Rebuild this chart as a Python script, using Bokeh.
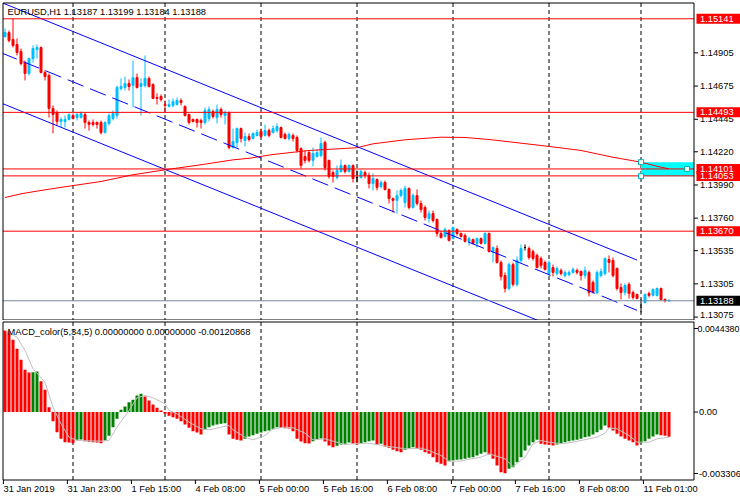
from bokeh.plotting import figure
from bokeh.layouts import column
from bokeh.models import Range1d, ColumnDataSource
from bokeh.core.properties import value
from bokeh.embed import file_html
from bokeh.resources import INLINE

FONT = "Liberation Sans"
FS = "9.3px"

header_text = "EURUSD,H1  1.13187 1.13199 1.13184 1.13188"
macd_text = "MACD_color(5,34,5) 0.00000000 0.00000000 -0.00120868"

opens = [1.15018, 1.15046, 1.14998, 1.14963, 1.14915, 1.14838, 1.14762, 1.14866, 1.14928, 1.14942,
         1.14769, 1.14748, 1.14520, 1.14492, 1.14430, 1.14430, 1.14444, 1.14471, 1.14457, 1.14457,
         1.14478, 1.14423, 1.14423, 1.14423, 1.14423, 1.14353, 1.14416, 1.14450, 1.14471, 1.14658,
         1.14665, 1.14693, 1.14679, 1.14734, 1.14672, 1.14679, 1.14728, 1.14686, 1.14596, 1.14603,
         1.14547, 1.14534, 1.14541, 1.14547, 1.14575, 1.14534, 1.14478, 1.14444, 1.14444, 1.14437,
         1.14423, 1.14450, 1.14499, 1.14457, 1.14513, 1.14471, 1.14492, 1.14250, 1.14284, 1.14381,
         1.14298, 1.14326, 1.14312, 1.14333, 1.14360, 1.14333, 1.14367, 1.14353, 1.14367, 1.14388,
         1.14340, 1.14312, 1.14333, 1.14319, 1.14243, 1.14187, 1.14215, 1.14160, 1.14187, 1.14194,
         1.14284, 1.14160, 1.14076, 1.14042, 1.14083, 1.14125, 1.14083, 1.14125, 1.14042, 1.14042,
         1.14076, 1.14056, 1.14000, 1.14028, 1.13979, 1.14007, 1.13959, 1.13896, 1.13883, 1.13917,
         1.13869, 1.13966, 1.13834, 1.13917, 1.13862, 1.13834, 1.13758, 1.13792, 1.13751, 1.13654,
         1.13633, 1.13675, 1.13619, 1.13682, 1.13654, 1.13640, 1.13599, 1.13612, 1.13585, 1.13619,
         1.13585, 1.13654, 1.13529, 1.13550, 1.13453, 1.13363, 1.13273, 1.13439, 1.13301, 1.13467,
         1.13557, 1.13550, 1.13529, 1.13502, 1.13481, 1.13453, 1.13377, 1.13418, 1.13377, 1.13398,
         1.13363, 1.13370, 1.13384, 1.13398, 1.13391, 1.13363, 1.13384, 1.13315, 1.13245, 1.13363,
         1.13377, 1.13474, 1.13467, 1.13412, 1.13280, 1.13245, 1.13301, 1.13245, 1.13232, 1.13190,
         1.13176, 1.13238, 1.13225, 1.13225, 1.13273, 1.13197, 1.13187]
highs = [1.15074, 1.15060, 1.15141, 1.15005, 1.14935, 1.14852, 1.14873, 1.14956, 1.14963, 1.14949,
         1.14783, 1.14762, 1.14541, 1.14506, 1.14457, 1.14471, 1.14485, 1.14485, 1.14492, 1.14499,
         1.14492, 1.14437, 1.14444, 1.14430, 1.14437, 1.14430, 1.14485, 1.14506, 1.14679, 1.14728,
         1.14741, 1.14721, 1.14852, 1.14762, 1.14728, 1.14887, 1.14741, 1.14693, 1.14624, 1.14617,
         1.14575, 1.14582, 1.14589, 1.14596, 1.14589, 1.14541, 1.14485, 1.14450, 1.14450, 1.14450,
         1.14527, 1.14534, 1.14513, 1.14547, 1.14527, 1.14506, 1.14499, 1.14381, 1.14388, 1.14388,
         1.14353, 1.14347, 1.14353, 1.14374, 1.14381, 1.14409, 1.14381, 1.14402, 1.14416, 1.14395,
         1.14353, 1.14353, 1.14347, 1.14333, 1.14250, 1.14229, 1.14229, 1.14250, 1.14236, 1.14319,
         1.14298, 1.14166, 1.14090, 1.14125, 1.14166, 1.14132, 1.14132, 1.14132, 1.14090, 1.14097,
         1.14090, 1.14076, 1.14070, 1.14035, 1.14021, 1.14021, 1.13966, 1.13903, 1.13952, 1.13966,
         1.13986, 1.13973, 1.13931, 1.13959, 1.13883, 1.13848, 1.13813, 1.13813, 1.13758, 1.13675,
         1.13696, 1.13682, 1.13702, 1.13689, 1.13661, 1.13654, 1.13633, 1.13619, 1.13626, 1.13626,
         1.13661, 1.13661, 1.13564, 1.13571, 1.13467, 1.13384, 1.13453, 1.13453, 1.13495, 1.13578,
         1.13578, 1.13564, 1.13543, 1.13515, 1.13495, 1.13467, 1.13467, 1.13439, 1.13425, 1.13412,
         1.13398, 1.13398, 1.13418, 1.13412, 1.13398, 1.13425, 1.13398, 1.13328, 1.13398, 1.13412,
         1.13488, 1.13502, 1.13488, 1.13418, 1.13308, 1.13308, 1.13315, 1.13259, 1.13238, 1.13197,
         1.13238, 1.13252, 1.13273, 1.13280, 1.13280, 1.13204, 1.13199]
lows = [1.15011, 1.14977, 1.14942, 1.14887, 1.14818, 1.14714, 1.14748, 1.14838, 1.14866, 1.14762,
        1.14714, 1.14457, 1.14347, 1.14402, 1.14388, 1.14388, 1.14437, 1.14444, 1.14437, 1.14450,
        1.14381, 1.14367, 1.14395, 1.14381, 1.14340, 1.14347, 1.14402, 1.14437, 1.14450, 1.14644,
        1.14644, 1.14644, 1.14527, 1.14658, 1.14471, 1.14665, 1.14665, 1.14589, 1.14547, 1.14568,
        1.14492, 1.14527, 1.14527, 1.14541, 1.14541, 1.14464, 1.14409, 1.14423, 1.14388, 1.14381,
        1.14409, 1.14430, 1.14450, 1.14416, 1.14457, 1.14409, 1.14236, 1.14243, 1.14250, 1.14284,
        1.14257, 1.14291, 1.14305, 1.14326, 1.14319, 1.14326, 1.14319, 1.14347, 1.14353, 1.14312,
        1.14305, 1.14298, 1.14291, 1.14215, 1.14104, 1.14139, 1.14146, 1.14118, 1.14180, 1.14180,
        1.14090, 1.14035, 1.14007, 1.14028, 1.14076, 1.14070, 1.14076, 1.14007, 1.14007, 1.14035,
        1.14035, 1.13966, 1.13952, 1.13952, 1.13966, 1.13952, 1.13862, 1.13799, 1.13792, 1.13903,
        1.13834, 1.13820, 1.13827, 1.13848, 1.13799, 1.13744, 1.13730, 1.13730, 1.13633, 1.13619,
        1.13626, 1.13599, 1.13612, 1.13640, 1.13626, 1.13592, 1.13571, 1.13578, 1.13557, 1.13578,
        1.13578, 1.13522, 1.13453, 1.13446, 1.13328, 1.13245, 1.13259, 1.13287, 1.13287, 1.13453,
        1.13536, 1.13474, 1.13467, 1.13412, 1.13412, 1.13398, 1.13363, 1.13356, 1.13363, 1.13363,
        1.13349, 1.13356, 1.13377, 1.13370, 1.13328, 1.13342, 1.13218, 1.13238, 1.13232, 1.13349,
        1.13363, 1.13384, 1.13349, 1.13259, 1.13197, 1.13225, 1.13204, 1.13197, 1.13197, 1.13107,
        1.13169, 1.13211, 1.13218, 1.13218, 1.13190, 1.13176, 1.13184]
closes = [1.15046, 1.14991, 1.14956, 1.14908, 1.14831, 1.14762, 1.14866, 1.14935, 1.14942, 1.14769,
          1.14741, 1.14520, 1.14478, 1.14430, 1.14444, 1.14444, 1.14478, 1.14450, 1.14478, 1.14485,
          1.14423, 1.14409, 1.14409, 1.14409, 1.14353, 1.14423, 1.14471, 1.14485, 1.14665, 1.14672,
          1.14693, 1.14672, 1.14734, 1.14665, 1.14693, 1.14728, 1.14672, 1.14589, 1.14589, 1.14582,
          1.14541, 1.14547, 1.14568, 1.14575, 1.14561, 1.14471, 1.14423, 1.14430, 1.14423, 1.14423,
          1.14506, 1.14513, 1.14464, 1.14513, 1.14478, 1.14492, 1.14250, 1.14291, 1.14381, 1.14312,
          1.14326, 1.14305, 1.14347, 1.14353, 1.14326, 1.14367, 1.14333, 1.14381, 1.14395, 1.14319,
          1.14312, 1.14340, 1.14312, 1.14229, 1.14125, 1.14160, 1.14160, 1.14208, 1.14215, 1.14277,
          1.14111, 1.14049, 1.14049, 1.14090, 1.14125, 1.14083, 1.14125, 1.14035, 1.14042, 1.14083,
          1.14056, 1.14000, 1.14035, 1.13973, 1.14007, 1.13959, 1.13896, 1.13883, 1.13917, 1.13952,
          1.13966, 1.13834, 1.13917, 1.13862, 1.13820, 1.13765, 1.13792, 1.13744, 1.13654, 1.13626,
          1.13682, 1.13606, 1.13696, 1.13654, 1.13633, 1.13599, 1.13619, 1.13585, 1.13619, 1.13585,
          1.13654, 1.13529, 1.13557, 1.13453, 1.13356, 1.13273, 1.13439, 1.13301, 1.13467, 1.13550,
          1.13557, 1.13488, 1.13481, 1.13418, 1.13432, 1.13405, 1.13453, 1.13384, 1.13412, 1.13377,
          1.13384, 1.13384, 1.13405, 1.13384, 1.13363, 1.13398, 1.13245, 1.13252, 1.13384, 1.13391,
          1.13481, 1.13453, 1.13363, 1.13273, 1.13245, 1.13294, 1.13238, 1.13211, 1.13204, 1.13190,
          1.13232, 1.13225, 1.13266, 1.13273, 1.13197, 1.13190, 1.13188]

time_labels = ["31 Jan 2019", "31 Jan 23:00", "1 Feb 15:00", "4 Feb 08:00", "5 Feb 00:00",
               "5 Feb 16:00", "6 Feb 08:00", "7 Feb 00:00", "7 Feb 16:00", "8 Feb 08:00", "11 Feb 01:00"]
time_label_bars = [0, 16, 32, 48, 64, 80, 96, 112, 128, 144, 160]
day_separator_bars = [17, 40, 64, 88, 112, 136, 159]

price_ticks = [1.14905, 1.14675, 1.14445, 1.14220, 1.13990, 1.13760, 1.13535, 1.13305, 1.13075]
level_prices = [1.15141, 1.14493, 1.14101, 1.14053, 1.13670]
bid_price = 1.13188

ma_bars = [0, 4, 9, 17, 24, 32, 40, 49, 57, 61, 67, 76, 88, 92, 100, 109, 115, 121, 127, 136,
           144, 152, 159, 164, 166]
ma_values = [1.13903, 1.13929, 1.13952, 1.13986, 1.14014, 1.14061, 1.14095, 1.14130, 1.14164,
             1.14175, 1.14201, 1.14229, 1.14248, 1.14275, 1.14303, 1.14321, 1.14319, 1.14305,
             1.14286, 1.14257, 1.14229, 1.14182, 1.14148, 1.14113, 1.14102]

channel_bars = [-1, 158]
channel_upper = [1.15255, 1.13470]
channel_middle = [1.14906, 1.13122]
channel_lower = [1.14558, 1.12774]

zone_start_bar = 159
zone_top = 1.14148
zone_bottom = 1.14051
handle_bars = [159, 159, 170.5]
handle_prices = [1.14148, 1.14051, 1.14101]

macd_hist = [0.003998, 0.003965, 0.003539, 0.003099, 0.002559, 0.002069, 0.001939, 0.001955, 0.001988, 0.001514,
             0.001089, 0.000240, -0.000447, -0.000986, -0.001313, -0.001476, -0.001493, -0.001525, -0.001362, -0.001346,
             -0.001427, -0.001460, -0.001476, -0.001493, -0.001525, -0.001395, -0.001166, -0.000741, -0.000333, 0.000109,
             0.000272, 0.000485, 0.000599, 0.000812, 0.000894, 0.000763, 0.000566, 0.000370, 0.000207, 0.000076,
             -0.000087, -0.000185, -0.000251, -0.000333, -0.000447, -0.000610, -0.000774, -0.000937, -0.001002, -0.001100,
             -0.000872, -0.000741, -0.000660, -0.000610, -0.000578, -0.000545, -0.001100, -0.001313, -0.001362, -0.001395,
             -0.001313, -0.001198, -0.001133, -0.001068, -0.001002, -0.000937, -0.000904, -0.000839, -0.000741, -0.000774,
             -0.000790, -0.000806, -0.000937, -0.001313, -0.001444, -0.001525, -0.001542, -0.001427, -0.001329, -0.001297,
             -0.001444, -0.001640, -0.001721, -0.001656, -0.001591, -0.001558, -0.001493, -0.001558, -0.001591, -0.001525,
             -0.001476, -0.001427, -0.001395, -0.001607, -0.001558, -0.001689, -0.001754, -0.001852, -0.001917, -0.001966,
             -0.001852, -0.001787, -0.001721, -0.001803, -0.001852, -0.001966, -0.002048, -0.002212, -0.002456, -0.002538,
             -0.002620, -0.002407, -0.002375, -0.002342, -0.002326, -0.002293, -0.002244, -0.002212, -0.002130, -0.002048,
             -0.001966, -0.002081, -0.002293, -0.002620, -0.002946, -0.002995, -0.002783, -0.002701, -0.002456, -0.002212,
             -0.001885, -0.001640, -0.001476, -0.001362, -0.001558, -0.001591, -0.001607, -0.001640, -0.001591, -0.001525,
             -0.001476, -0.001427, -0.001395, -0.001362, -0.001313, -0.001231, -0.001198, -0.001100, -0.000986, -0.000872,
             -0.000660, -0.000774, -0.000904, -0.001068, -0.001198, -0.001313, -0.001395, -0.001476, -0.001640, -0.001525,
             -0.001427, -0.001313, -0.001198, -0.001100, -0.001133, -0.001166, -0.001209]
signal_bars = [0, 3, 5, 7, 10, 12, 14, 16, 18, 24, 26, 28, 31, 33, 35, 37, 40, 41, 43, 46,
               49, 51, 54, 56, 57, 60, 62, 65, 67, 70, 72, 75, 77, 80, 82, 85, 87, 91, 92, 96,
               100, 104, 106, 109, 111, 114, 116, 119, 121, 125, 127, 130, 132, 134, 136, 139, 142, 146, 148, 150,
               151, 153, 156, 158, 161, 163, 166]
signal_values = [0.003998, 0.003671, 0.003017, 0.002118, 0.001465, 0.000240, -0.000578, -0.001231, -0.001395, -0.001427,
                 -0.001395, -0.000741, 0.000076, 0.000697, 0.000812, 0.000697, 0.000403, 0.000076, -0.000087, -0.000496,
                 -0.000823, -0.000872, -0.000741, -0.000660, -0.000872, -0.001231, -0.001362, -0.001149, -0.000823, -0.000741,
                 -0.000774, -0.001035, -0.001362, -0.001313, -0.001427, -0.001591, -0.001558, -0.001525, -0.001558, -0.001689,
                 -0.001803, -0.001770, -0.001885, -0.002130, -0.002407, -0.002407, -0.002309, -0.002212, -0.002048, -0.002293,
                 -0.002669, -0.002212, -0.001558, -0.001395, -0.001476, -0.001558, -0.001476, -0.001313, -0.001231, -0.001035,
                 -0.000774, -0.000823, -0.001149, -0.001476, -0.001476, -0.001313, -0.001231]
macd_scale_max = 0.004438
macd_scale_min = -0.003306
macd_scale_labels = ["0.0044380", "0.00", "-0.003306"]

# ---------------- layout / style constants (pixel geometry of the MT4 window) ----------------
BULL = "#00BFFF"
BEAR = "#FF0000"
DOJI = "#000000"
GREEN = "#008000"
W = 740
MAIN_H = 320
MACD_H = 180
LEFT, RIGHT = 2.5, 693.5            # chart border columns
MAIN_TOP, MAIN_BOT = 2.5, 319.5     # main chart border rows
MACD_TOP, MACD_BOT = 321.0, 479.0   # MACD chart border rows (canvas)
PRICE_TOP = 1.152677                # price at canvas row 0
PRICE_PER_PX = 0.00006926
MACD_PX = (macd_scale_max - macd_scale_min) / (MACD_BOT - MACD_TOP)


def X(px):          # canvas column -> bar units (bar i sits on column 4.5 + 4 i)
    return (px - 4.5) / 4.0


def PY(py):         # canvas row -> price (main panel)
    return PRICE_TOP - PRICE_PER_PX * py


def MY(cy):         # canvas row -> MACD value (MACD panel, canvas row = 320 + local row)
    return macd_scale_max - (cy - MACD_TOP) * MACD_PX


def base_fig(h, y0, y1):
    f = figure(width=W, height=h, x_range=Range1d(X(0), X(W)), y_range=Range1d(y0, y1),
               output_backend="svg", toolbar_location=None,
               x_axis_location=None, y_axis_location=None,
               min_border=0, min_border_left=0, min_border_right=0,
               min_border_top=0, min_border_bottom=0)
    f.outline_line_color = None
    f.background_fill_color = "white"
    f.border_fill_color = "white"
    f.xgrid.visible = False
    f.ygrid.visible = False
    return f


def txt(f, xs, ys, texts, color="black", x_offset=0, size=FS):
    f.text(x=xs, y=ys, text=texts, text_font=value(FONT), text_font_size=size,
           text_color=color, text_align="left", text_baseline="middle",
           x_offset=x_offset, level="overlay")


def masks(f, top_y, bot_y, y_lo, y_hi):
    # white margins around the chart box, then the black border
    f.quad(left=[X(-10), X(RIGHT), X(-10), X(-10)], right=[X(LEFT), X(W + 10), X(W + 10), X(W + 10)],
           top=[y_hi, y_hi, y_hi, bot_y], bottom=[y_lo, y_lo, top_y, y_lo],
           fill_color="white", line_color=None, level="overlay")
    f.quad(left=[X(LEFT)], right=[X(RIGHT)], top=[top_y], bottom=[bot_y],
           fill_color=None, line_color="black", line_width=1, level="overlay")


# ---------------- main price panel ----------------
p = base_fig(MAIN_H, PY(MAIN_H), PY(0))

p.segment(x0=day_separator_bars, y0=PY(MAIN_TOP), x1=day_separator_bars, y1=PY(MAIN_BOT),
          line_color="black", line_width=1, line_dash="4 3", level="underlay")

p.quad(left=[zone_start_bar], right=[X(RIGHT)], top=[zone_top], bottom=[zone_bottom],
       fill_color="#00FFFF", line_color=None)

idx = list(range(len(closes)))
colors = [BULL if c > o else (BEAR if c < o else DOJI) for o, c in zip(opens, closes)]
src = ColumnDataSource(dict(x=idx, h=highs, l=lows,
                            top=[max(o, c) for o, c in zip(opens, closes)],
                            bottom=[min(o, c) for o, c in zip(opens, closes)],
                            color=colors))
p.segment("x", "h", "x", "l", source=src, line_color="color", line_width=1)
p.vbar(x="x", width=0.5, top="top", bottom="bottom", source=src,
       fill_color="color", line_color="color", line_width=1)

p.line(ma_bars, ma_values, line_color="#FF0000", line_width=1)
p.line(channel_bars, channel_upper, line_color="#0000FF", line_width=1)
p.line(channel_bars, channel_lower, line_color="#0000FF", line_width=1)
p.line(channel_bars, channel_middle, line_color="#0000FF", line_width=1, line_dash="17 7")

nlev = len(level_prices)
p.segment(x0=[X(LEFT)] * nlev, y0=level_prices, x1=[X(RIGHT)] * nlev, y1=level_prices,
          line_color="#FF0000", line_width=1)
p.segment(x0=[X(LEFT)], y0=[bid_price], x1=[X(RIGHT)], y1=[bid_price],
          line_color="#778899", line_width=1)
p.scatter(handle_bars, handle_prices, marker="square", size=5,
          fill_color="white", line_color="#00B0B0", line_width=1)

masks(p, PY(MAIN_TOP), PY(MAIN_BOT), PY(MAIN_H + 5), PY(-5))

# right price scale (labels kept inside the window, as MT4 clamps the lowest one)
nt = len(price_ticks)
p.segment(x0=[X(RIGHT)] * nt, y0=price_ticks, x1=[X(RIGHT + 4)] * nt, y1=price_ticks,
          line_color="black", line_width=1, level="overlay")
tick_text_y = [max(t, PY(MAIN_BOT - 5.5)) for t in price_ticks]
txt(p, [X(RIGHT + 6)] * nt, tick_text_y, [f"{t:.5f}" for t in price_ticks])

half_box = 5 * PRICE_PER_PX
p.quad(left=[X(RIGHT + 2.5)] * nlev, right=[X(W + 5)] * nlev,
       top=[v + half_box for v in level_prices], bottom=[v - half_box for v in level_prices],
       fill_color="#FF0000", line_color=None, level="overlay")
txt(p, [X(RIGHT + 6)] * nlev, level_prices, [f"{v:.5f}" for v in level_prices], color="white")
p.quad(left=[X(RIGHT + 2.5)], right=[X(W + 5)], top=[bid_price + half_box],
       bottom=[bid_price - half_box], fill_color="#000000", line_color=None, level="overlay")
txt(p, [X(RIGHT + 6)], [bid_price], [f"{bid_price:.5f}"], color="white")

txt(p, [X(7)], [PY(11)], [header_text])

# ---------------- MACD panel ----------------
q = base_fig(MACD_H, MY(MAIN_H + MACD_H), MY(MAIN_H))

q.segment(x0=day_separator_bars, y0=MY(MACD_TOP + 0.5), x1=day_separator_bars, y1=MY(MACD_BOT + 0.5),
          line_color="black", line_width=1, line_dash="4 3", level="underlay")

hist_colors = [BEAR] + [GREEN if macd_hist[i] > macd_hist[i - 1] else BEAR
                        for i in range(1, len(macd_hist))]
q.vbar(x=idx, width=0.75, top=macd_hist, bottom=0, fill_color=hist_colors, line_color=None)
q.line(signal_bars, signal_values, line_color="#C0C0C0", line_width=1)

masks(q, MY(MACD_TOP + 0.5), MY(MACD_BOT + 0.5), MY(MAIN_H + MACD_H + 5), MY(MAIN_H - 5))

macd_label_y = [MY(328), 0.0, MY(473)]
q.segment(x0=[X(RIGHT)] * 3, y0=macd_label_y, x1=[X(RIGHT + 4)] * 3, y1=macd_label_y,
          line_color="black", line_width=1, level="overlay")
txt(q, [X(RIGHT + 3.5)], [macd_label_y[0]], [macd_scale_labels[0]], size="8.9px")
txt(q, [X(RIGHT + 5)] * 2, macd_label_y[1:], macd_scale_labels[1:])

nb = len(time_label_bars)
q.segment(x0=[b - 0.4 for b in time_label_bars], y0=[MY(MACD_BOT + 0.5)] * nb,
          x1=[b - 0.4 for b in time_label_bars], y1=[MY(MACD_BOT + 4.5)] * nb,
          line_color="black", line_width=1, level="overlay")
txt(q, time_label_bars, [MY(488.5)] * nb, time_labels, x_offset=-1.5)

txt(q, [X(7)], [MY(331)], [macd_text])

layout = column(p, q, spacing=0)
open("out.html", "w").write(file_html(layout, INLINE, title="EURUSD,H1"))
